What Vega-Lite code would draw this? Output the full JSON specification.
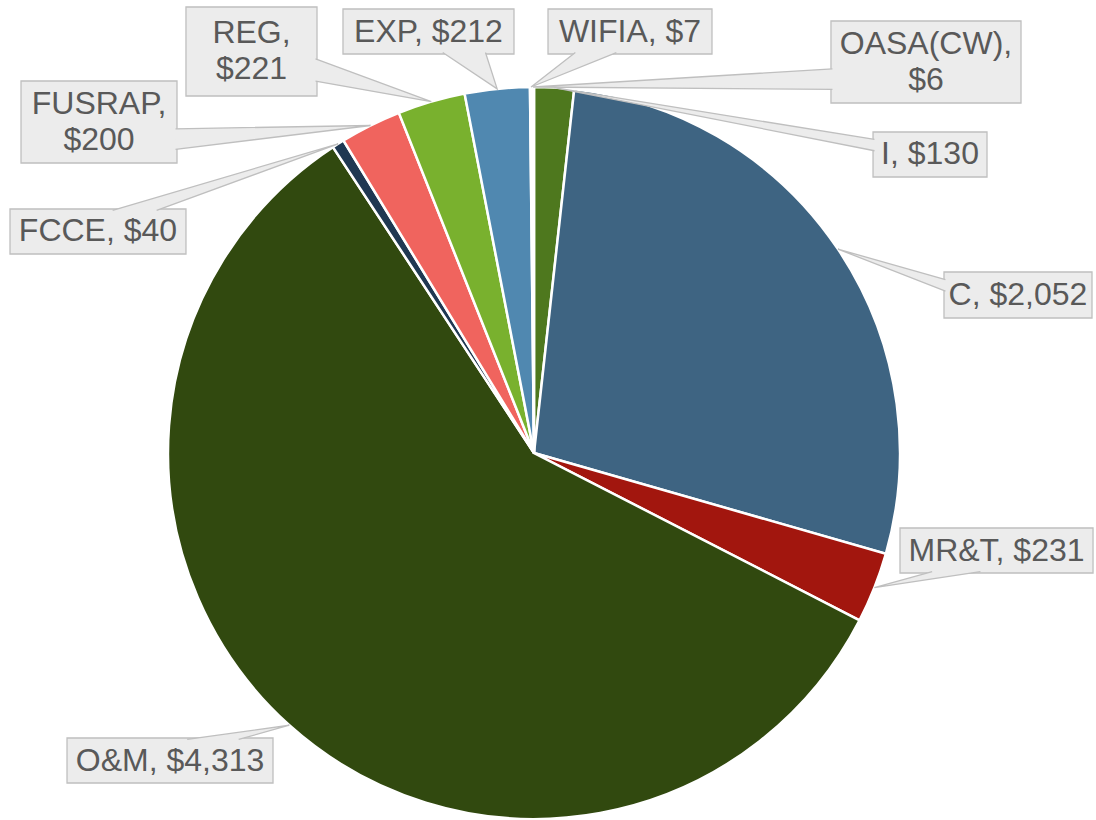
{
  "$schema": "https://vega.github.io/schema/vega-lite/v6.json",
  "width": 1096,
  "height": 820,
  "autosize": {"type": "none"},
  "padding": 0,
  "background": "#ffffff",
  "config": {"view": {"stroke": null}},
  "data": {
    "values": [
      {"order": 1, "cat": "I", "value": 130, "label": "I, $130"},
      {"order": 2, "cat": "C", "value": 2052, "label": "C, $2,052"},
      {"order": 3, "cat": "MR&T", "value": 231, "label": "MR&T, $231"},
      {"order": 4, "cat": "O&M", "value": 4313, "label": "O&M, $4,313"},
      {"order": 5, "cat": "FCCE", "value": 40, "label": "FCCE, $40"},
      {"order": 6, "cat": "FUSRAP", "value": 200, "label": "FUSRAP,\n$200"},
      {"order": 7, "cat": "REG", "value": 221, "label": "REG,\n$221"},
      {"order": 8, "cat": "EXP", "value": 212, "label": "EXP, $212"},
      {"order": 9, "cat": "WIFIA", "value": 7, "label": "WIFIA, $7"},
      {"order": 10, "cat": "OASA(CW)", "value": 6, "label": "OASA(CW),\n$6"}
    ]
  },
  "transform": [
    {"joinaggregate": [{"op": "sum", "field": "value", "as": "total"}]},
    {"window": [{"op": "sum", "field": "value", "as": "cum"}], "sort": [{"field": "order"}], "frame": [null, 0]},
    {"calculate": "2*PI*(datum.cum - datum.value/2)/datum.total", "as": "ang"},
    {"calculate": "sin(datum.ang)", "as": "tx"},
    {"calculate": "cos(datum.ang)", "as": "ty"},
    {"calculate": "[[1.0820,0.8156,0.1557,0.0615],[1.3224,0.4317,0.2022,0.0628],[1.2637,-0.2664,0.2637,0.0615],[-0.9945,-0.8402,0.2814,0.0615],[-1.1913,0.6052,0.2404,0.0615],[-1.1885,0.9044,0.2131,0.1120],[-0.7719,1.0970,0.1790,0.1216],[-0.2883,1.1516,0.2336,0.0615],[0.2623,1.1516,0.2240,0.0615],[1.0710,1.0683,0.2596,0.1120]][datum.order-1]", "as": "box"},
    {"calculate": "datum.box[0]", "as": "cx"},
    {"calculate": "datum.box[1]", "as": "cy"},
    {"calculate": "datum.box[2]", "as": "hw"},
    {"calculate": "datum.box[3]", "as": "hh"},
    {"calculate": "datum.cx - datum.hw", "as": "bx0"},
    {"calculate": "datum.cx + datum.hw", "as": "bx1"},
    {"calculate": "datum.cy - datum.hh", "as": "by0"},
    {"calculate": "datum.cy + datum.hh", "as": "by1"},
    {"calculate": "datum.cy + (length(split(datum.label, '\\n')) - 1) * 0.0492", "as": "ly"}
  ],
  "layer": [
    {
      "mark": {"type": "arc", "outerRadius": 366, "stroke": "#ffffff", "strokeWidth": 2.5},
      "encoding": {
        "x": {"datum": 0, "type": "quantitative", "scale": {"type": "linear", "domain": [-1.45902, 1.53552], "nice": false, "zero": false}, "axis": null},
        "y": {"datum": 0, "type": "quantitative", "scale": {"type": "linear", "domain": [-1.00273, 1.23770], "nice": false, "zero": false}, "axis": null},
        "theta": {"field": "value", "type": "quantitative", "stack": true},
        "order": {"field": "order", "type": "quantitative"},
        "color": {
          "field": "cat",
          "type": "nominal",
          "scale": {
            "domain": ["I", "C", "MR&T", "O&M", "FCCE", "FUSRAP", "REG", "EXP", "WIFIA", "OASA(CW)"],
            "range": ["#4e781e", "#3e6482", "#a2160e", "#31490f", "#1f3852", "#f0645e", "#79b12e", "#5088b0", "#ffffff", "#ffffff"]
          },
          "legend": null
        }
      }
    },
    {
      "mark": {"type": "rect", "fill": "#ececec", "stroke": "#bfbfbf", "strokeWidth": 1.3},
      "encoding": {
        "x": {"field": "bx0", "type": "quantitative", "scale": {"type": "linear", "domain": [-1.45902, 1.53552], "nice": false, "zero": false}, "axis": null},
        "x2": {"field": "bx1"},
        "y": {"field": "by0", "type": "quantitative", "scale": {"type": "linear", "domain": [-1.00273, 1.23770], "nice": false, "zero": false}, "axis": null},
        "y2": {"field": "by1"}
      }
    },
    {
      "transform": [
        {"calculate": "abs(datum.ty-datum.cy) > abs((datum.tx-datum.cx)*datum.hh/datum.hw)", "as": "vert"},
        {"calculate": "datum.tx > datum.cx ? 1 : -1", "as": "sx"},
        {"calculate": "datum.ty > datum.cy ? 1 : -1", "as": "sy"},
        {"calculate": "datum.vert ? (datum.sx>0 ? datum.cx+datum.hw/6 : datum.cx-2*datum.hw/3) : datum.cx+datum.sx*(datum.hw-0.004)", "as": "b1x"},
        {"calculate": "datum.vert ? (datum.sx>0 ? datum.cx+2*datum.hw/3 : datum.cx-datum.hw/6) : datum.cx+datum.sx*(datum.hw-0.004)", "as": "b2x"},
        {"calculate": "datum.vert ? datum.cy+datum.sy*(datum.hh-0.004) : (datum.sy<0 ? datum.cy-datum.hh/6 : datum.cy+2*datum.hh/3)", "as": "b1y"},
        {"calculate": "datum.vert ? datum.cy+datum.sy*(datum.hh-0.004) : (datum.sy<0 ? datum.cy-2*datum.hh/3 : datum.cy+datum.hh/6)", "as": "b2y"},
        {"calculate": "[[0,datum.b1x,datum.b1y],[1,datum.tx,datum.ty],[2,datum.b2x,datum.b2y]]", "as": "poly"},
        {"flatten": ["poly"], "as": ["pt"]},
        {"calculate": "datum.pt[0]", "as": "k"},
        {"calculate": "datum.pt[1]", "as": "px"},
        {"calculate": "datum.pt[2]", "as": "py"}
      ],
      "mark": {"type": "line", "fill": "#ececec", "stroke": "#bfbfbf", "strokeWidth": 1.3, "strokeJoin": "miter"},
      "encoding": {
        "x": {"field": "px", "type": "quantitative", "scale": {"type": "linear", "domain": [-1.45902, 1.53552], "nice": false, "zero": false}, "axis": null},
        "y": {"field": "py", "type": "quantitative", "scale": {"type": "linear", "domain": [-1.00273, 1.23770], "nice": false, "zero": false}, "axis": null},
        "detail": {"field": "cat", "type": "nominal"},
        "order": {"field": "k", "type": "quantitative"}
      }
    },
    {
      "mark": {"type": "text", "font": "Liberation Sans", "fontSize": 32, "fill": "#595959", "align": "center", "baseline": "middle", "lineBreak": "\n", "lineHeight": 36},
      "encoding": {
        "x": {"field": "cx", "type": "quantitative", "scale": {"type": "linear", "domain": [-1.45902, 1.53552], "nice": false, "zero": false}, "axis": null},
        "y": {"field": "ly", "type": "quantitative", "scale": {"type": "linear", "domain": [-1.00273, 1.23770], "nice": false, "zero": false}, "axis": null},
        "text": {"field": "label"}
      }
    }
  ]
}
